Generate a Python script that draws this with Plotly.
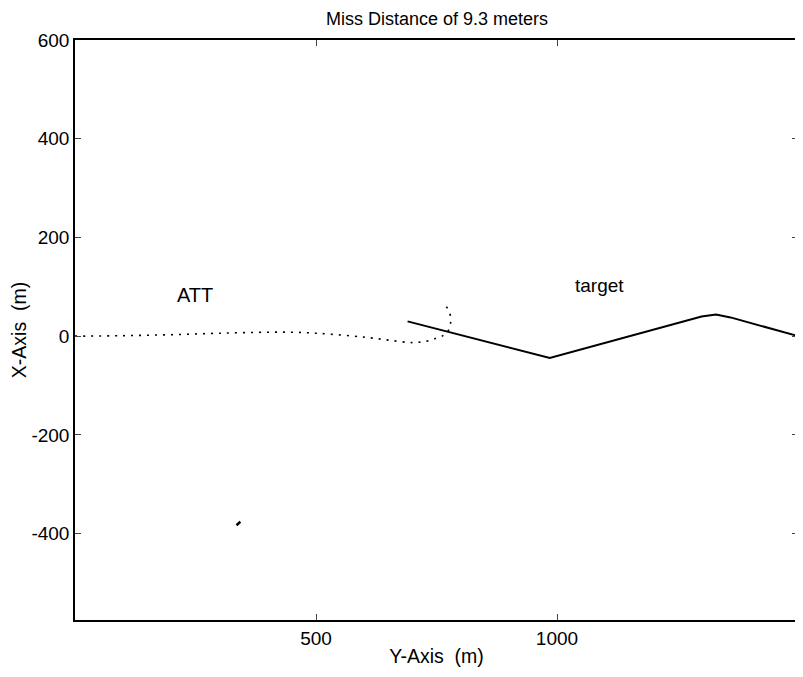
import plotly.graph_objects as go

# ATT (interceptor) trajectory, dotted
att_x = [0, 100, 200, 300, 400, 450, 500, 600, 650, 700, 730, 750, 765, 775, 779, 779, 775, 769, 763]
att_y = [0, 1, 3, 6, 8, 8, 6, -2, -8, -13, -10, -4, 2, 12, 25, 40, 52, 62, 68]

# target trajectory, solid
tgt_x = [690, 985, 1300, 1330, 1360, 1500]
tgt_y = [30, -44, 40, 44, 38, 0]

# small stray mark
blob_x = [335, 343]
blob_y = [-383, -376]

x_ticks = [500, 1000]
y_ticks = [600, 400, 200, 0, -200, -400]

FONT = "Arial, Liberation Sans, Helvetica"

fig = go.Figure()
fig.add_trace(go.Scatter(x=att_x, y=att_y, mode="lines",
                         line=dict(color="black", width=1.6, dash="2px,6px", shape="spline"),
                         showlegend=False, hoverinfo="skip"))
fig.add_trace(go.Scatter(x=tgt_x, y=tgt_y, mode="lines",
                         line=dict(color="black", width=2),
                         showlegend=False, hoverinfo="skip"))
fig.add_trace(go.Scatter(x=blob_x, y=blob_y, mode="lines",
                         line=dict(color="black", width=2.5),
                         showlegend=False, hoverinfo="skip"))

fig.add_annotation(x=248, y=84, text="ATT", showarrow=False,
                   font=dict(family=FONT, size=20, color="black"))
fig.add_annotation(x=1089, y=103, text="target", showarrow=False,
                   font=dict(family=FONT, size=19, color="black"))

# page body has an 8px default margin, so the figure is drawn 8px smaller
fig.update_layout(
    width=790, height=661,
    margin=dict(l=67, r=0, t=32, b=49, autoexpand=False),
    paper_bgcolor="white", plot_bgcolor="white",
    title=dict(text="Miss Distance of 9.3 meters", x=(437 - 8) / 790, xanchor="center",
               xref="container", yref="container",
               y=1 - 11 / 661, yanchor="middle",
               font=dict(family=FONT, size=18, color="black")),
    font=dict(family=FONT, size=19, color="black"),
)
fig.update_xaxes(range=[0, 1500], tickvals=x_ticks, ticktext=[str(v) for v in x_ticks],
                 ticks="inside", ticklen=6, automargin=False,
                 showline=True, linecolor="black", linewidth=1.5, mirror="ticks",
                 showgrid=False, zeroline=False,
                 tickfont=dict(family=FONT, size=19),
                 title=dict(text="Y-Axis  (m)", standoff=2,
                            font=dict(family=FONT, size=19.5)))
fig.update_yaxes(range=[-575, 600], tickvals=y_ticks, ticktext=[str(v) for v in y_ticks],
                 ticks="inside", ticklen=6, automargin=False,
                 showline=True, linecolor="black", linewidth=1.5, mirror="ticks",
                 showgrid=False, zeroline=False,
                 tickfont=dict(family=FONT, size=19),
                 title=dict(text="X-Axis  (m)", standoff=6,
                            font=dict(family=FONT, size=19.5)))

fig.write_html("out.html")
